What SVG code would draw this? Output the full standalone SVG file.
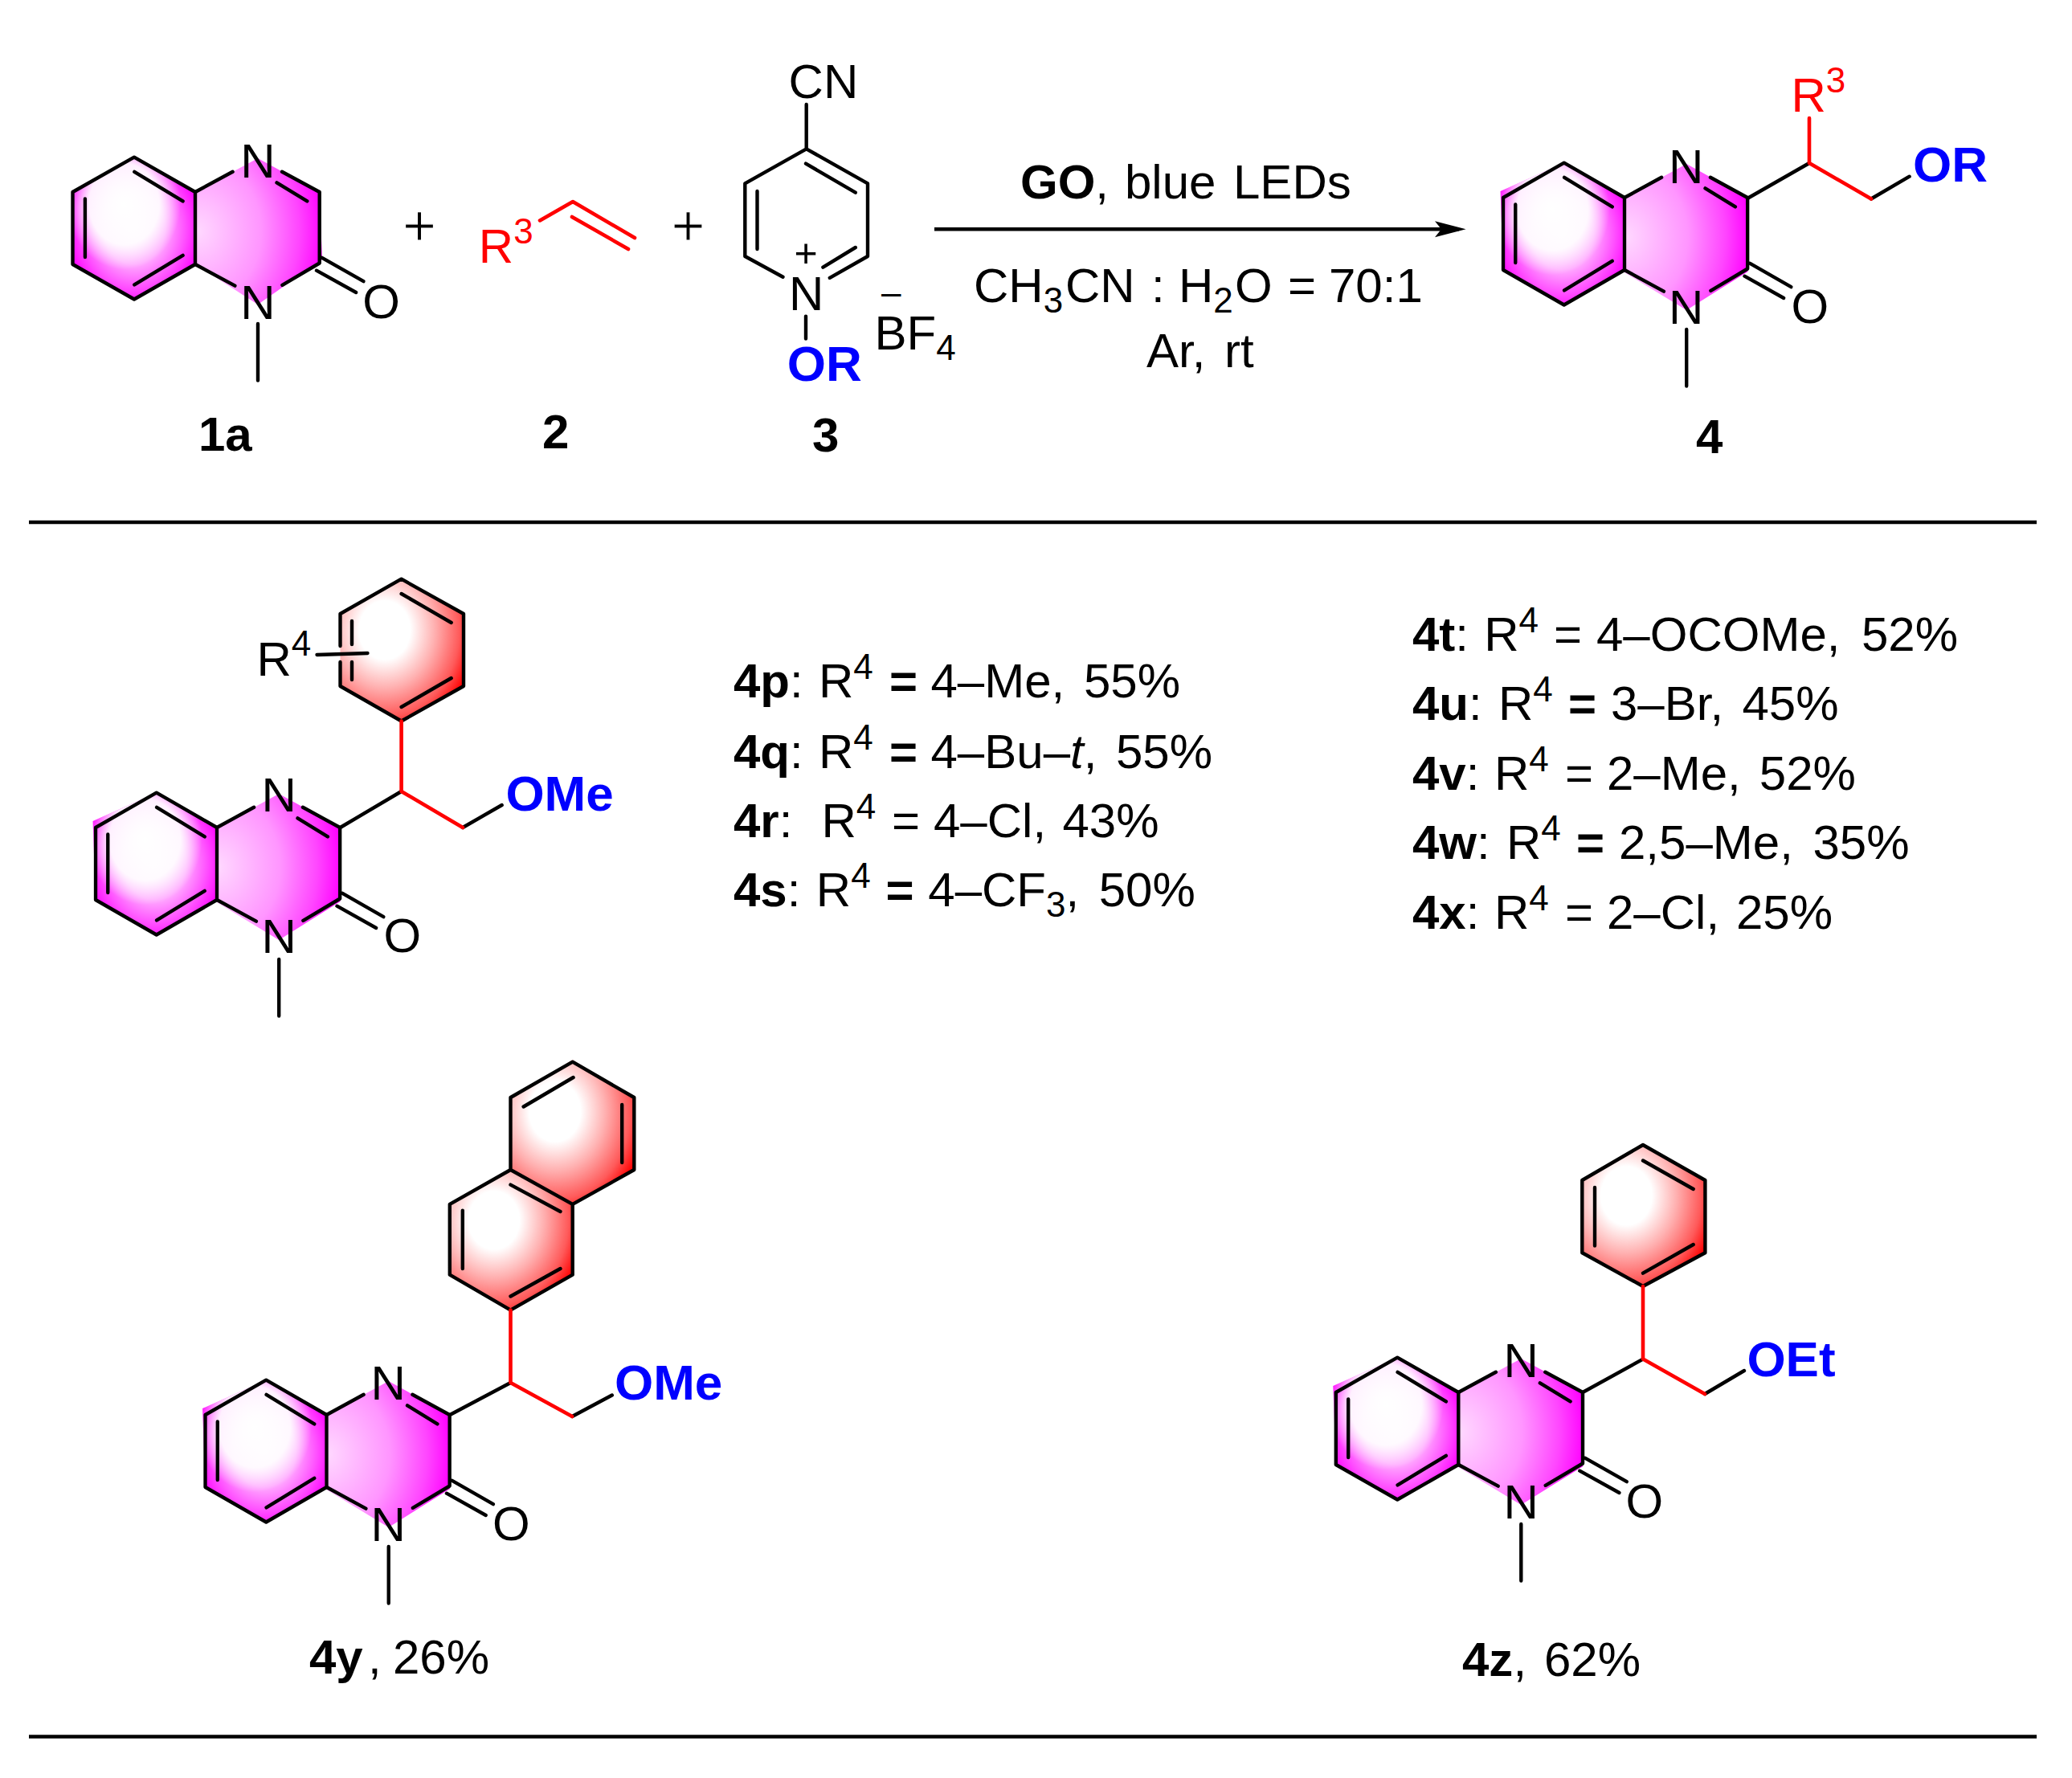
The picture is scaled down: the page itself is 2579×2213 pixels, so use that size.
<svg xmlns="http://www.w3.org/2000/svg" width="2579" height="2213" viewBox="0 0 2579 2213">
<style>
text{font-family:"Liberation Sans",Arial,sans-serif;font-size:60px;fill:#000}
.b{font-weight:bold}
.blue{fill:#0000ff;font-weight:bold;font-size:62px}
.red{fill:#ff0000}
.s{font-size:44px}
.i{font-style:italic}
.plus{font-size:72px;stroke:#fff;stroke-width:1.2px}
.bond{fill:none;stroke:#000;stroke-width:4.4;stroke-linecap:round;stroke-linejoin:round}
.rbond{fill:none;stroke:#ff0000;stroke-width:4.6;stroke-linecap:round;stroke-linejoin:round}
.rule{stroke:#000;stroke-width:4.5}
.pink{fill:url(#gBenz)}
.spot{fill:url(#gSpot)}
.pyr{fill:url(#gPyr)}
.ph{fill:url(#gRed)}
</style>
<defs>
<radialGradient id="gBenz" cx="0.5" cy="0.5" r="0.56">
<stop offset="0" stop-color="#ffdcff"/><stop offset="0.45" stop-color="#ffaaff"/><stop offset="0.75" stop-color="#ff50ff"/><stop offset="1" stop-color="#ff00ff"/>
</radialGradient>
<radialGradient id="gSpot" cx="0.42" cy="0.33" r="0.46">
<stop offset="0" stop-color="#fff"/><stop offset="0.62" stop-color="#fff" stop-opacity="0.92"/><stop offset="1" stop-color="#fff" stop-opacity="0"/>
</radialGradient>
<radialGradient id="gPyr" cx="0.02" cy="0.5" r="1">
<stop offset="0" stop-color="#ffd8ff"/><stop offset="0.5" stop-color="#ff95ff"/><stop offset="0.8" stop-color="#ff45ff"/><stop offset="1" stop-color="#ff00ff"/>
</radialGradient>
<radialGradient id="gRed" cx="0.36" cy="0.36" r="0.74">
<stop offset="0" stop-color="#fff"/><stop offset="0.28" stop-color="#fff"/><stop offset="0.55" stop-color="#ffb0b0"/><stop offset="0.82" stop-color="#ff5a5a"/><stop offset="1" stop-color="#ff0000"/>
</radialGradient>
<marker id="head" markerUnits="userSpaceOnUse" markerWidth="42" markerHeight="24" refX="30" refY="12" orient="auto">
<path d="M0,2 L38.6,12 L0,22 L8,12 Z" fill="#000"/>
</marker>
<g id="fillA">
<polygon class="pink" points="-152.5,0 -76,-43.3 0,0 0,90 -76,133.5 -152.5,90"/>
<polygon class="spot" points="-152.5,0 -76,-43.3 0,0 0,90 -76,133.5 -152.5,90"/>
<polygon class="pyr" points="0,0 78,-42 154.7,0 158,84 78,140 0,90"/>
</g>
<g id="fillB">
<polygon class="pink" points="-156,-8 -76,-43.3 0,0 0,90 -76,133.5 -152.5,90"/>
<polygon class="spot" points="-156,-8 -76,-43.3 0,0 0,90 -76,133.5 -152.5,90"/>
<polygon class="pyr" points="0,0 78,-42 154.7,0 155,92 78,140 -2,92"/>
</g>
<g id="lines">
<path class="bond" d="M0,0 L-76,-43.3 L-152.5,0 L-152.5,90 L-76,133.5 L0,90 Z"/>
<path class="bond" d="M-75.7,-25.2 L-15.4,11.4 M-137.1,8.5 V81 M-75.7,115.4 L-15.4,78.8"/>
<path class="bond" d="M0,0 L46.6,-25.2 M108,-25.2 L154.7,0 V88.5 L108.4,115.8 M0,90 L49.4,116.6 M101.5,-11.7 L139.3,11.4"/>
<path class="bond" d="M157.4,81.7 L209.5,111.2 M150.9,97.7 L200.2,125 M78,164 V234.5"/>
</g>
</defs>

<g id="connectors">
<line class="rule" x1="36" y1="650" x2="2535" y2="650"/>
<line class="rule" x1="36" y1="2161.5" x2="2535" y2="2161.5"/>
<line id="arrow" x1="1163" y1="285.3" x2="1816" y2="285.3" stroke="#000" stroke-width="4.6" marker-end="url(#head)"/>
</g>

<g id="m1a">
<use href="#fillA" x="243" y="239"/><use href="#lines" x="243" y="239"/>
<text x="299.3" y="221">N</text><text x="299.3" y="396.5">N</text><text x="451.2" y="395.6">O</text>
<text class="b" x="247" y="561">1a</text>
</g>
<g id="plus1"><text class="plus" x="501" y="305">+</text></g>
<g id="m2">
<path class="rbond" d="M672,274.4 L713,251 L790,296 M712,270 L782,310"/>
<text class="red" x="595.8" y="327.4">R<tspan class="s red" dy="-24.5">3</tspan></text>
<text class="b" x="675" y="558">2</text>
</g>
<g id="plus2"><text class="plus" x="835.5" y="305">+</text></g>
<g id="m3">
<path class="bond" d="M974.5,344.8 L927.3,319 V228.4 L1003.7,185.3 L1080,228.4 V319 L1032.8,345.8 M1003,203.6 L1064.8,239.7 M942.5,238 V310 M1024.4,332.7 L1064.8,308 M1003.7,130 V185.3 M1003,393.6 V421.5"/>
<text x="981.6" y="122">CN</text>
<text x="988.4" y="332" style="font-size:50px">+</text>
<text x="982" y="386">N</text>
<text class="blue" x="979.7" y="473.9">OR</text>
<text x="1097" y="378.5" class="s">–</text>
<text x="1088.5" y="435">BF<tspan class="s" dy="13">4</tspan></text>
<text class="b" x="1011" y="561.7">3</text>
</g>
<g id="conditions">
<text x="1270" y="246.6"><tspan class="b">GO</tspan>,<tspan x="1400">blue</tspan><tspan x="1535">LEDs</tspan></text>
<text x="1212" y="375.7">CH<tspan class="s" dy="13">3</tspan><tspan x="1326" dy="-13">CN</tspan><tspan x="1433">:</tspan><tspan x="1467">H</tspan><tspan class="s" dy="13">2</tspan><tspan x="1537" dy="-13">O</tspan><tspan x="1603">=</tspan><tspan x="1654">70:1</tspan></text>
<text x="1427" y="457.4">Ar,<tspan x="1524">rt</tspan></text>
</g>
<g id="m4">
<use href="#fillB" transform="translate(2022,246) scale(.99,1)"/><use href="#lines" transform="translate(2022,246) scale(.99,1)"/>
<path class="bond" d="M2175,247 L2252,203 M2329,247.5 L2376.6,219.7"/>
<path class="rbond" d="M2252,147 V203 L2329,247.5"/>
<text x="2077" y="227.5">N</text><text x="2077" y="403">N</text><text x="2229.5" y="402">O</text>
<text class="red" x="2229.4" y="139">R<tspan class="s red" dy="-24.5">3</tspan></text>
<text class="blue" x="2381" y="226">OR</text>
<text class="b" x="2111" y="564">4</text>
</g>
<g id="m4p">
<polygon class="ph" points="499.6,720.7 577,764 577,854 499.6,897.5 423.5,854 423.5,764"/>
<use href="#fillB" transform="translate(270,1030) scale(.99,1)"/><use href="#lines" transform="translate(270,1030) scale(.99,1)"/>
<path class="bond" d="M423.5,804 V764 L499.6,720.7 L577,764 V854 L499.6,897.5 L423.5,854 V824 M438,773 V802 M438,824 V846 M499.6,739 L561.7,775 M499.6,880 L561.7,844 M394.5,815 L457.5,813"/>
<path class="bond" d="M423.5,1030 L499.6,985 M576,1030 L624.7,1002"/>
<path class="rbond" d="M499.6,897.5 V985 L576,1030"/>
<text x="325.5" y="1010">N</text><text x="325.5" y="1186">N</text><text x="477.5" y="1185">O</text>
<text x="319.5" y="841">R<tspan class="s" dy="-24.6">4</tspan></text>
<text class="blue" x="629.4" y="1009">OMe</text>
</g>
<g id="list-left">
<text y="868.3" x="913"><tspan class="b">4p</tspan>:<tspan x="1019">R</tspan><tspan class="s" dy="-23">4</tspan><tspan class="b" x="1107" dy="23">=</tspan><tspan x="1158.5">4–Me,</tspan><tspan x="1349">55%</tspan></text>
<text y="955.7" x="913"><tspan class="b">4q</tspan>:<tspan x="1019">R</tspan><tspan class="s" dy="-23">4</tspan><tspan class="b" x="1107" dy="23">=</tspan><tspan x="1158.5">4–Bu–</tspan><tspan class="i">t</tspan>,<tspan x="1389">55%</tspan></text>
<text y="1042.3" x="913"><tspan class="b">4r</tspan>:<tspan x="1022.5">R</tspan><tspan class="s" dy="-23">4</tspan><tspan x="1110" dy="23">=</tspan><tspan x="1162">4–Cl,</tspan><tspan x="1322.5">43%</tspan></text>
<text y="1128.3" x="913"><tspan class="b">4s</tspan>:<tspan x="1015.8">R</tspan><tspan class="s" dy="-23">4</tspan><tspan class="b" x="1102.4" dy="23">=</tspan><tspan x="1155.3">4–CF</tspan><tspan class="s" dy="13">3</tspan><tspan dy="-13">,</tspan><tspan x="1367.7">50%</tspan></text>
</g>
<g id="list-right">
<text y="810" x="1758"><tspan class="b">4t</tspan>:<tspan x="1847.2">R</tspan><tspan class="s" dy="-23">4</tspan><tspan x="1934" dy="23">=</tspan><tspan x="1987">4–OCOMe,</tspan><tspan x="2317">52%</tspan></text>
<text y="896" x="1758"><tspan class="b">4u</tspan>:<tspan x="1865">R</tspan><tspan class="s" dy="-23">4</tspan><tspan class="b" x="1952" dy="23">=</tspan><tspan x="2005">3–Br,</tspan><tspan x="2168.5">45%</tspan></text>
<text y="982.7" x="1758"><tspan class="b">4v</tspan>:<tspan x="1860">R</tspan><tspan class="s" dy="-23">4</tspan><tspan x="1948" dy="23">=</tspan><tspan x="2000">2–Me,</tspan><tspan x="2189.8">52%</tspan></text>
<text y="1069.3" x="1758"><tspan class="b">4w</tspan>:<tspan x="1875">R</tspan><tspan class="s" dy="-23">4</tspan><tspan class="b" x="1962" dy="23">=</tspan><tspan x="2015">2,5–Me,</tspan><tspan x="2256.4">35%</tspan></text>
<text y="1156" x="1758"><tspan class="b">4x</tspan>:<tspan x="1860">R</tspan><tspan class="s" dy="-23">4</tspan><tspan x="1948" dy="23">=</tspan><tspan x="2000">2–Cl,</tspan><tspan x="2161">25%</tspan></text>
</g>
<g id="m4y">
<polygon class="ph" points="635.5,1456 712.7,1498.9 712.7,1586.7 635.5,1630.6 559.8,1586.7 559.8,1498.9"/>
<polygon class="ph" points="635.5,1366 712.7,1319 789.3,1366 789.3,1456 712.7,1498.9 635.5,1456"/>
<use href="#fillB" transform="translate(406.5,1761) scale(.99,1)"/><use href="#lines" transform="translate(406.5,1761) scale(.99,1)"/>
<path class="bond" d="M635.5,1456 L712.7,1498.9 V1586.7 L635.5,1630.6 L559.8,1586.7 V1498.9 Z M635.5,1456 V1366 L712.7,1321.7 L789.3,1366 V1456 L712.7,1498.9 M575.8,1506.6 V1579 M635.5,1613.5 L697.5,1579 M635.5,1474.6 L697.5,1508 M651.6,1377.5 L713.6,1341 M774.2,1375 V1447"/>
<path class="bond" d="M560,1761 L635.5,1721 M712.2,1763 L761.8,1736.5"/>
<path class="rbond" d="M635.5,1630.6 V1721 L712.2,1763"/>
<text x="461.5" y="1742">N</text><text x="461.5" y="1918">N</text><text x="613" y="1917">O</text>
<text class="blue" x="765" y="1741.6">OMe</text>
<text y="2082.5" x="385"><tspan class="b">4y</tspan><tspan x="458">,</tspan><tspan x="489">26%</tspan></text>
</g>
<g id="m4z">
<polygon class="ph" points="2045,1425 2122.4,1469 2122.4,1559.3 2045,1601 1969.3,1559.3 1969.3,1469"/>
<use href="#fillB" x="1815.3" y="1733"/><use href="#lines" x="1815.3" y="1733"/>
<path class="bond" d="M2045,1425 L2122.4,1469 V1559.3 L2045,1601 L1969.3,1559.3 V1469 Z M1985,1478 V1550.6 M2045,1444.5 L2107.7,1480 M2045,1584.6 L2107.7,1549"/>
<path class="bond" d="M1970,1733 L2045,1691.6 M2122,1735 L2171,1706"/>
<path class="rbond" d="M2045,1601 V1691.6 L2122,1735"/>
<text x="1871.6" y="1714">N</text><text x="1871.6" y="1890">N</text><text x="2023.5" y="1889">O</text>
<text class="blue" x="2174.4" y="1713">OEt</text>
<text y="2086.4" x="1820"><tspan class="b">4z</tspan>,<tspan x="1922">62%</tspan></text>
</g>
</svg>
